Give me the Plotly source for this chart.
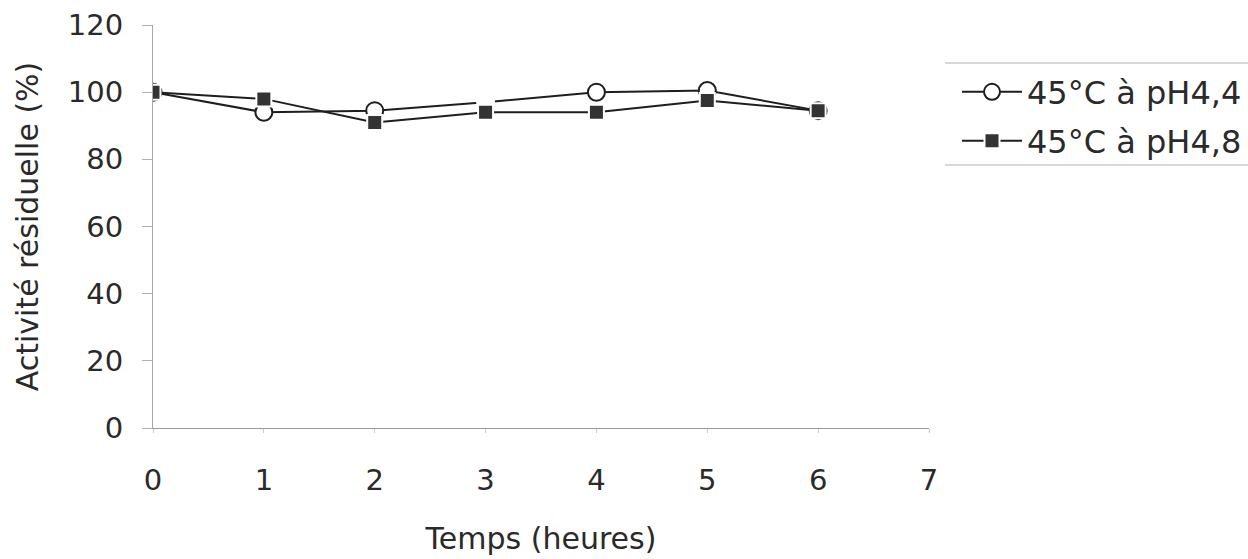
import plotly.graph_objects as go

hours = [0, 1, 2, 3, 4, 5, 6]
ph44 = [100, 94, 94.5, 97, 100, 100.5, 94.5]
ph48 = [100, 98, 91, 94, 94, 97.5, 94.5]
name44 = "45°C à pH4,4"
name48 = "45°C à pH4,8"
x_ticks = [0, 1, 2, 3, 4, 5, 6, 7]
y_ticks = [0, 20, 40, 60, 80, 100, 120]

FONT = "DejaVu Sans"
TXT = "#2a2a2a"
LINE = "#1e1e1e"

W, H = 1248, 559
L, R, T, B = 153, 319, 25, 131
pw, ph = W - L - R, H - T - B


def px2x(px):
    return (px - L) / pw


def py2y(py):
    return (H - B - py) / ph


fig = go.Figure()
fig.add_trace(go.Scatter(
    x=hours, y=ph44, name=name44, mode="lines+markers", legend="legend",
    line=dict(color=LINE, width=2),
    marker=dict(symbol="circle", size=17, color="white",
                line=dict(color=[LINE, LINE, LINE, "white", LINE, LINE, LINE], width=2)),
))
fig.add_trace(go.Scatter(
    x=hours, y=ph48, name=name48, mode="lines+markers", legend="legend2",
    line=dict(color=LINE, width=2),
    marker=dict(symbol="square", size=15, color="#333333",
                line=dict(color="white", width=2)),
))

for yy in (63, 165):
    fig.add_shape(type="line", xref="paper", yref="paper",
                  x0=px2x(945), x1=px2x(1248), y0=py2y(yy), y1=py2y(yy),
                  line=dict(color="#b0b0b0", width=1))

leg_common = dict(xanchor="left", yanchor="middle", xref="container", yref="container",
                  font=dict(family=FONT, size=32, color=TXT),
                  bgcolor="rgba(0,0,0,0)", itemwidth=60)

fig.update_layout(
    width=W, height=H,
    margin=dict(l=L, r=R, t=T, b=B),
    paper_bgcolor="white", plot_bgcolor="white",
    font=dict(family=FONT, size=29, color=TXT),
    showlegend=True,
    legend=dict(x=957 / W, y=1 - 92 / H, **leg_common),
    legend2=dict(x=957 / W, y=1 - 141 / H, **leg_common),
    xaxis=dict(range=[0, 7], tickvals=x_ticks, ticktext=[str(v) for v in x_ticks],
               automargin=False,
               showgrid=False, zeroline=False, showline=True,
               linecolor="#9a9a9a", linewidth=1, ticks="outside", ticklen=4,
               tickcolor="#cccccc", ticklabelstandoff=22,
               title=dict(text="Temps (heures)", standoff=32,
                          font=dict(family=FONT, size=30, color=TXT))),
    yaxis=dict(range=[0, 120], tickvals=y_ticks,
               automargin=False,
               showgrid=False, zeroline=False, showline=True,
               linecolor="#a8a8a8", linewidth=1, ticks="outside", ticklen=10,
               tickcolor="#b0b0b0", ticklabelstandoff=13,
               title=dict(text="Activité résiduelle (%)", standoff=20,
                          font=dict(family=FONT, size=30, color=TXT))),
)

fig.write_html("out.html")
